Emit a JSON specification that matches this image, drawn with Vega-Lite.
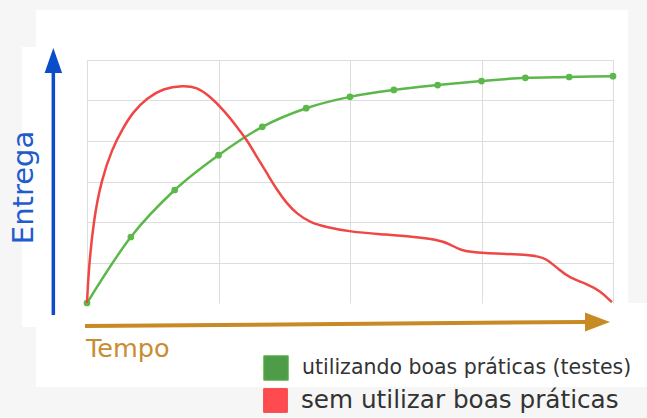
{
  "$schema": "https://vega.github.io/schema/vega-lite/v6.json",
  "width": 526,
  "height": 243,
  "autosize": {"type": "none"},
  "padding": {"left": 87, "top": 60, "right": 34, "bottom": 115},
  "background": "#ffffff",
  "config": {"view": {"stroke": null}, "font": "DejaVu Sans"},
  "datasets": {
    "green": [
      {"t": 0, "v": 0, "serie": "utilizando boas práticas (testes)"},
      {"t": 0.3333, "v": 1.63, "serie": "utilizando boas práticas (testes)"},
      {"t": 0.6667, "v": 2.79, "serie": "utilizando boas práticas (testes)"},
      {"t": 1, "v": 3.65, "serie": "utilizando boas práticas (testes)"},
      {"t": 1.3333, "v": 4.35, "serie": "utilizando boas práticas (testes)"},
      {"t": 1.6667, "v": 4.81, "serie": "utilizando boas práticas (testes)"},
      {"t": 2, "v": 5.09, "serie": "utilizando boas práticas (testes)"},
      {"t": 2.3333, "v": 5.26, "serie": "utilizando boas práticas (testes)"},
      {"t": 2.6667, "v": 5.38, "serie": "utilizando boas práticas (testes)"},
      {"t": 3, "v": 5.48, "serie": "utilizando boas práticas (testes)"},
      {"t": 3.3333, "v": 5.56, "serie": "utilizando boas práticas (testes)"},
      {"t": 3.6667, "v": 5.58, "serie": "utilizando boas práticas (testes)"},
      {"t": 4, "v": 5.6, "serie": "utilizando boas práticas (testes)"}
    ],
    "red": [
      {"t": 0, "v": 0, "serie": "sem utilizar boas práticas"},
      {"t": 0.012, "v": 0.8, "serie": "sem utilizar boas práticas"},
      {"t": 0.05, "v": 2.05, "serie": "sem utilizar boas práticas"},
      {"t": 0.11, "v": 3.04, "serie": "sem utilizar boas práticas"},
      {"t": 0.19, "v": 3.8, "serie": "sem utilizar boas práticas"},
      {"t": 0.27, "v": 4.3, "serie": "sem utilizar boas práticas"},
      {"t": 0.35, "v": 4.72, "serie": "sem utilizar boas práticas"},
      {"t": 0.456, "v": 5.06, "serie": "sem utilizar boas práticas"},
      {"t": 0.578, "v": 5.3, "serie": "sem utilizar boas práticas"},
      {"t": 0.73, "v": 5.37, "serie": "sem utilizar boas práticas"},
      {"t": 0.837, "v": 5.33, "serie": "sem utilizar boas práticas"},
      {"t": 0.935, "v": 5.1, "serie": "sem utilizar boas práticas"},
      {"t": 1.034, "v": 4.78, "serie": "sem utilizar boas práticas"},
      {"t": 1.141, "v": 4.35, "serie": "sem utilizar boas práticas"},
      {"t": 1.217, "v": 4.02, "serie": "sem utilizar boas práticas"},
      {"t": 1.293, "v": 3.6, "serie": "sem utilizar boas práticas"},
      {"t": 1.369, "v": 3.2, "serie": "sem utilizar boas práticas"},
      {"t": 1.445, "v": 2.79, "serie": "sem utilizar boas práticas"},
      {"t": 1.521, "v": 2.45, "serie": "sem utilizar boas práticas"},
      {"t": 1.597, "v": 2.2, "serie": "sem utilizar boas práticas"},
      {"t": 1.696, "v": 1.99, "serie": "sem utilizar boas práticas"},
      {"t": 1.825, "v": 1.87, "serie": "sem utilizar boas práticas"},
      {"t": 2.0, "v": 1.76, "serie": "sem utilizar boas práticas"},
      {"t": 2.228, "v": 1.7, "serie": "sem utilizar boas práticas"},
      {"t": 2.479, "v": 1.64, "serie": "sem utilizar boas práticas"},
      {"t": 2.66, "v": 1.57, "serie": "sem utilizar boas práticas"},
      {"t": 2.76, "v": 1.46, "serie": "sem utilizar boas práticas"},
      {"t": 2.84, "v": 1.29, "serie": "sem utilizar boas práticas"},
      {"t": 2.989, "v": 1.23, "serie": "sem utilizar boas práticas"},
      {"t": 3.392, "v": 1.19, "serie": "sem utilizar boas práticas"},
      {"t": 3.49, "v": 1.11, "serie": "sem utilizar boas práticas"},
      {"t": 3.59, "v": 0.82, "serie": "sem utilizar boas práticas"},
      {"t": 3.673, "v": 0.62, "serie": "sem utilizar boas práticas"},
      {"t": 3.802, "v": 0.47, "serie": "sem utilizar boas práticas"},
      {"t": 3.901, "v": 0.3, "serie": "sem utilizar boas práticas"},
      {"t": 3.992, "v": 0.02, "serie": "sem utilizar boas práticas"}
    ]
  },
  "resolve": {"scale": {"color": "independent"}},
  "layer": [
    {
      "data": {"values": [{}]},
      "mark": {"type": "rect", "color": "#f6f6f6"},
      "encoding": {
        "x": {"datum": -0.7, "type": "quantitative", "scale": {"domain": [0, 4], "nice": false}, "axis": {"values": [0, 1, 2, 3, 4], "grid": true, "labels": false, "ticks": false, "domain": false, "title": null, "gridColor": "#dddddd", "gridWidth": 1}},
        "x2": {"datum": 4.3},
        "y": {"datum": 7.6, "type": "quantitative", "scale": {"domain": [0, 6], "nice": false}, "axis": {"values": [1, 2, 3, 4, 5, 6], "grid": true, "labels": false, "ticks": false, "domain": false, "title": null, "gridColor": "#dddddd", "gridWidth": 1}},
        "y2": {"datum": 7.235}
      }
    },
    {
      "data": {"values": [{}]},
      "mark": {"type": "rect", "color": "#f6f6f6"},
      "encoding": {
        "x": {"datum": -0.7, "type": "quantitative"},
        "x2": {"datum": 4.3},
        "y": {"datum": -2.074, "type": "quantitative"},
        "y2": {"datum": -2.9}
      }
    },
    {
      "data": {"values": [{}]},
      "mark": {"type": "rect", "color": "#f6f6f6"},
      "encoding": {
        "x": {"datum": -0.7, "type": "quantitative"},
        "x2": {"datum": -0.494},
        "y": {"datum": 7.235, "type": "quantitative"},
        "y2": {"datum": -2.074}
      }
    },
    {
      "data": {"values": [{}]},
      "mark": {"type": "rect", "color": "#f6f6f6"},
      "encoding": {
        "x": {"datum": -0.494, "type": "quantitative"},
        "x2": {"datum": -0.388},
        "y": {"datum": 7.235, "type": "quantitative"},
        "y2": {"datum": 6.321}
      }
    },
    {
      "data": {"values": [{}]},
      "mark": {"type": "rect", "color": "#f6f6f6"},
      "encoding": {
        "x": {"datum": -0.494, "type": "quantitative"},
        "x2": {"datum": -0.388},
        "y": {"datum": -0.593, "type": "quantitative"},
        "y2": {"datum": -2.074}
      }
    },
    {
      "data": {"values": [{}]},
      "mark": {"type": "rect", "color": "#f6f6f6"},
      "encoding": {
        "x": {"datum": 4.114, "type": "quantitative"},
        "x2": {"datum": 4.3},
        "y": {"datum": 7.235, "type": "quantitative"},
        "y2": {"datum": 0}
      }
    },
    {
      "data": {"values": [{}]},
      "mark": {"type": "rule", "color": "#0b4cc8", "strokeWidth": 3.5},
      "encoding": {
        "x": {"datum": -0.256, "type": "quantitative"},
        "x2": {"datum": -0.256},
        "y": {"datum": -0.296, "type": "quantitative"},
        "y2": {"datum": 5.7}
      }
    },
    {
      "data": {"values": [{}]},
      "mark": {"type": "point", "shape": "M0,-1L0.7,1L-0.7,1Z", "size": 625, "filled": true, "color": "#0b4cc8", "opacity": 1, "strokeWidth": 0},
      "encoding": {
        "x": {"datum": -0.256, "type": "quantitative"},
        "y": {"datum": 5.99, "type": "quantitative"}
      }
    },
    {
      "data": {"values": [{}]},
      "mark": {"type": "rule", "color": "#c78a25", "strokeWidth": 4},
      "encoding": {
        "x": {"datum": -0.015, "type": "quantitative"},
        "x2": {"datum": 3.787},
        "y": {"datum": -0.568, "type": "quantitative"},
        "y2": {"datum": -0.469}
      }
    },
    {
      "data": {"values": [{}]},
      "mark": {"type": "point", "shape": "M1,0L-1,0.76L-1,-0.76Z", "size": 625, "filled": true, "color": "#c78a25", "opacity": 1, "strokeWidth": 0},
      "encoding": {
        "x": {"datum": 3.882, "type": "quantitative"},
        "y": {"datum": -0.469, "type": "quantitative"}
      }
    },
    {
      "data": {"values": [{"label": "Entrega"}]},
      "mark": {"type": "text", "angle": 270, "align": "center", "baseline": "alphabetic", "fontSize": 29, "color": "#1f5ccc", "font": "DejaVu Sans"},
      "encoding": {
        "x": {"datum": -0.411, "type": "quantitative"},
        "y": {"datum": 2.852, "type": "quantitative"},
        "text": {"field": "label"}
      }
    },
    {
      "data": {"values": [{"label": "Tempo"}]},
      "mark": {"type": "text", "align": "left", "baseline": "alphabetic", "fontSize": 25.5, "color": "#c98d30", "font": "DejaVu Sans"},
      "encoding": {
        "x": {"datum": -0.008, "type": "quantitative"},
        "y": {"datum": -1.333, "type": "quantitative"},
        "text": {"field": "label"}
      }
    },
    {
      "data": {"name": "green"},
      "mark": {"type": "line", "interpolate": "monotone", "strokeWidth": 2.5},
      "encoding": {
        "x": {"field": "t", "type": "quantitative", "title": null},
        "y": {"field": "v", "type": "quantitative", "title": null},
        "color": {"field": "serie", "type": "nominal", "scale": {"range": ["#5cb84a"]},
                  "legend": {"orient": "none", "legendX": 176, "legendY": 295, "title": null, "padding": 0,
                             "symbolType": "square", "symbolSize": 600, "labelFontSize": 20.5, "labelFont": "DejaVu Sans",
                             "labelColor": "#333333", "labelOffset": 13, "labelLimit": 500,
                             "encode": {"symbols": {"update": {"fill": {"value": "#4f9c48"}, "fillOpacity": {"value": 1}, "stroke": {"value": "#5fae92"}, "strokeWidth": {"value": 1}}}}}}
      }
    },
    {
      "data": {"name": "green"},
      "mark": {"type": "point", "filled": true, "size": 45, "color": "#5cb84a", "opacity": 1},
      "encoding": {
        "x": {"field": "t", "type": "quantitative", "title": null},
        "y": {"field": "v", "type": "quantitative", "title": null}
      }
    },
    {
      "data": {"name": "red"},
      "mark": {"type": "line", "interpolate": "basis", "strokeWidth": 2.5},
      "encoding": {
        "x": {"field": "t", "type": "quantitative", "title": null},
        "y": {"field": "v", "type": "quantitative", "title": null},
        "color": {"field": "serie", "type": "nominal", "scale": {"range": ["#f04646"]},
                  "legend": {"orient": "none", "legendX": 176, "legendY": 328, "title": null, "padding": 0,
                             "symbolType": "square", "symbolSize": 560, "labelFontSize": 24.7, "labelFont": "DejaVu Sans",
                             "labelColor": "#333333", "labelOffset": 13, "labelLimit": 500,
                             "encode": {"symbols": {"update": {"fill": {"value": "#ff4a50"}, "fillOpacity": {"value": 1}, "stroke": {"value": "#6fb08f"}, "strokeWidth": {"value": 1}}}}}}
      }
    }
  ]
}
